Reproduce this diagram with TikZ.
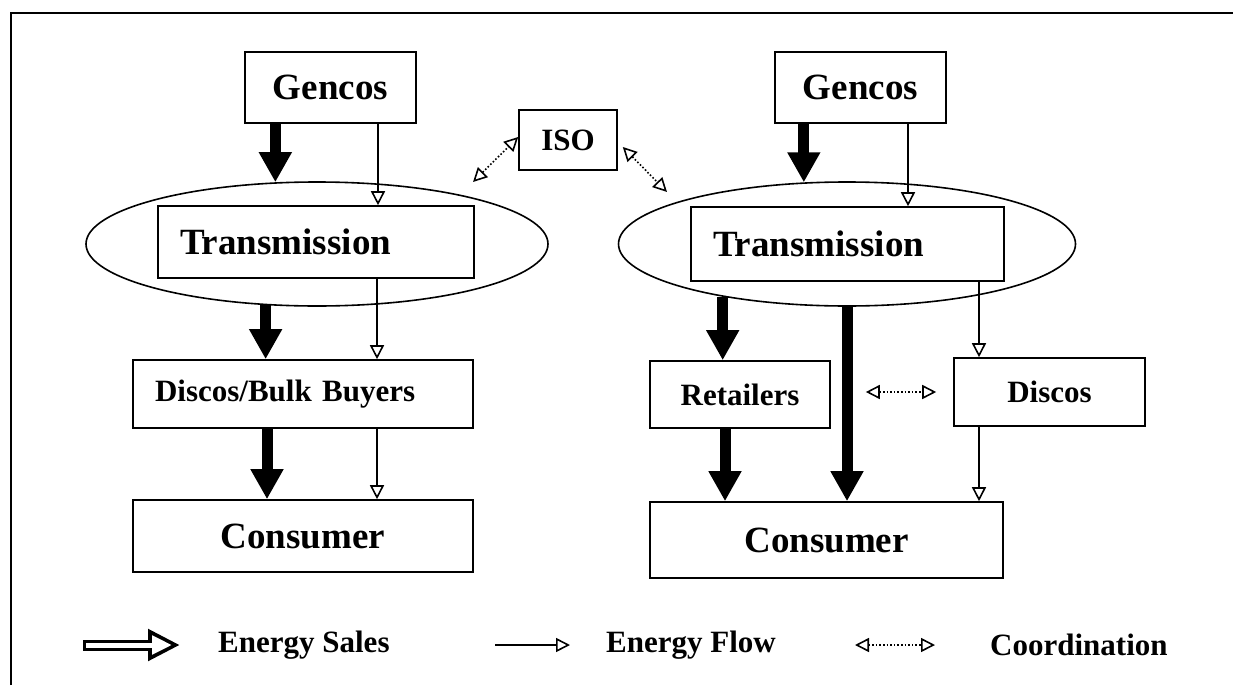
\documentclass[tikz,border=0pt]{standalone}
\usepackage{fontspec}
\setmainfont{Liberation Serif}
\usetikzlibrary{arrows.meta, shapes.geometric}
\tikzset{
  box/.style={draw, line width=1.6pt, inner sep=0pt, font=\bfseries\fontsize{31}{36}\selectfont},
  bigbox/.style={box, font=\bfseries\fontsize{37}{44}\selectfont},
  oval/.style={draw, ellipse, line width=1.6pt, inner sep=0pt},
  sales/.style={line width=11pt, -{Triangle[length=30pt, width=31pt]}},
  flow/.style={line width=1.6pt, -{Triangle[open, length=14pt, width=14pt]}},
  coordarrow/.style={line width=1.6pt, dash pattern=on 1.6pt off 2pt,
    {Triangle[open, length=14pt, width=14pt]}-{Triangle[open, length=14pt, width=14pt]}},
  legendtext/.style={anchor=west, inner sep=0pt, font=\bfseries\fontsize{31}{36}\selectfont}
}
\begin{document}
\begin{tikzpicture}[x=1pt, y=-1pt]
\useasboundingbox (0,0) rectangle (1233,685);

% Frame
\draw[line width=2pt] (11,685) -- (11,13) -- (1233,13);

% Define the ovals
\node[oval, minimum width=462pt, minimum height=124pt] (ellL) at (317,244) {};
\node[oval, minimum width=457pt, minimum height=124pt] (ellR) at (847,244) {};

% Define the boxes (left market)
\node[bigbox, minimum width=171pt, minimum height=71pt] (gencosL) at (330.5,87.5) {Gencos};
\node[bigbox, minimum height=72pt, text width=272pt, align=left, inner xsep=22pt] (transL) at (316,242) {Transmission};
\node[box, minimum height=68pt, text width=296pt, align=left, inner xsep=22pt] (bulkL) at (303,394) {Discos/Bulk Buyers};
\node[bigbox, minimum width=340pt, minimum height=72pt] (consL) at (303,536) {Consumer};

% ISO
\node[box, minimum width=98pt, minimum height=60pt] (iso) at (568,140) {ISO};

% Define the boxes (right market)
\node[bigbox, minimum width=171pt, minimum height=71pt] (gencosR) at (860.5,87.5) {Gencos};
\node[bigbox, minimum height=74pt, text width=269pt, align=left, inner xsep=22pt] (transR) at (847.5,244) {Transmission};
\node[box, minimum width=180pt, minimum height=67pt] (retail) at (740,394.5) {Retailers};
\node[box, minimum width=191pt, minimum height=68pt] (discos) at (1049.5,392) {Discos};
\node[bigbox, minimum width=353pt, minimum height=76pt] (consR) at (826.5,540) {Consumer};

% Add arrows (left market)
\draw[sales] (ellL.124.5 |- gencosL.south) -- (ellL.124.5);
\draw[flow] ([xshift=47.5pt]gencosL.south) -- ([xshift=47.5pt]gencosL.south |- transL.north);
\draw[sales] (ellL.230.4) -- (ellL.230.4 |- bulkL.north);
\draw[flow] ([xshift=61pt]transL.south) -- ([xshift=61pt]transL.south |- bulkL.north);
\draw[sales] ([xshift=-36pt]bulkL.south) -- ([xshift=-36pt]bulkL.south |- consL.north);
\draw[flow] ([xshift=74pt]bulkL.south) -- ([xshift=74pt]bulkL.south |- consL.north);

% Add arrows (right market)
\draw[sales] (ellR.125.2 |- gencosR.south) -- (ellR.125.2);
\draw[flow] ([xshift=47.5pt]gencosR.south) -- ([xshift=47.5pt]gencosR.south |- transR.north);
\draw[sales] (ellR.203.2) -- (ellR.203.2 |- retail.north);
\draw[sales] (ellR.south) -- (ellR.south |- consR.north);
\draw[flow] ([xshift=131.5pt]transR.south) -- ([xshift=131.5pt]transR.south |- discos.north);
\draw[sales] ([xshift=-15pt]retail.south) -- ([xshift=-15pt]retail.south |- consR.north);
\draw[flow] ([xshift=-70.5pt]discos.south) -- ([xshift=-70.5pt]discos.south |- consR.north);
\draw[coordarrow, shorten <=35pt, shorten >=17pt] (discos.west -| retail.east) -- (discos.west);

% Coordination with the ISO
\coordinate (isoA) at (473,182);
\coordinate (isoB) at (667,192);
\draw[coordarrow] (isoA) -- ([yshift=3pt]iso.west);
\draw[coordarrow] ([xshift=5pt, yshift=-7pt]iso.east) -- (isoB);

% Legend
\coordinate (ls1) at (83,645);
\coordinate (ls2) at (180,645);
\draw[line width=11pt, -{Triangle[length=32pt, width=30pt]}] (ls1) -- (ls2);
\draw[white, line width=5pt, -{Triangle[length=20pt, width=18pt]}] ([xshift=3pt]ls1) -- ([xshift=-8pt]ls2);
\node[legendtext] (salesT) at (218,645) {Energy Sales};

\coordinate (lf1) at (495,645);
\coordinate (lf2) at (570,645);
\draw[flow] (lf1) -- (lf2);
\node[legendtext] (flowT) at (606,645) {Energy Flow};

\coordinate (lc1) at (855,645);
\coordinate (lc2) at (935,645);
\draw[coordarrow] (lc1) -- (lc2);
\node[legendtext] (coordT) at (990,645) {Coordination};

\end{tikzpicture}
\end{document}
